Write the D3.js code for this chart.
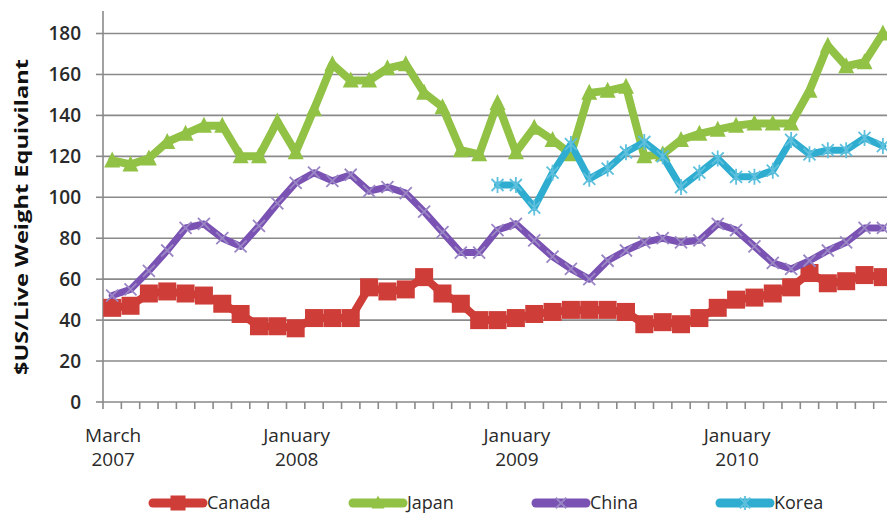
<!DOCTYPE html>
<html>
<head>
<meta charset="utf-8">
<script src="https://cdn.jsdelivr.net/npm/d3@7"></script>
<style>
  html, body { margin: 0; padding: 0; background: #fff; }
  svg { display: block; }
</style>
</head>
<body>
<svg id="chart" width="887" height="515"></svg>
<script>
// ---- data ----
const months = [
  "2007-03","2007-04","2007-05","2007-06","2007-07","2007-08","2007-09","2007-10","2007-11","2007-12",
  "2008-01","2008-02","2008-03","2008-04","2008-05","2008-06","2008-07","2008-08","2008-09","2008-10","2008-11","2008-12",
  "2009-01","2009-02","2009-03","2009-04","2009-05","2009-06","2009-07","2009-08","2009-09","2009-10","2009-11","2009-12",
  "2010-01","2010-02","2010-03","2010-04","2010-05","2010-06","2010-07","2010-08","2010-09"
];
const canada = [46,47,53,54,53,52,48,43,37,37, 36,41,41,41,56,54,55,61,53,48,40,40, 41,43,44,45,45,45,44,38,39,38,41,46, 50,51,53,56,63,58,59,62,61];
const japan  = [118,116,119,127,131,135,135,120,120,137, 122,143,165,157,157,163,165,151,144,123,121,146, 122,134,128,121,151,152,154,120,121,128,131,133, 135,136,136,136,152,174,164,166,180];
const china  = [52,55,64,74,85,87,80,76,86,97, 107,112,108,111,103,105,102,93,83,73,73,84, 87,79,71,65,60,69,74,78,80,78,79,87, 84,76,68,65,69,74,78,85,85];
const korea  = [null,null,null,null,null,null,null,null,null,null, null,null,null,null,null,null,null,null,null,null,null,106, 106,95,112,126,109,114,122,127,120,105,112,119, 110,110,113,128,121,123,123,129,125];
const seriesNames = ["Canada","Japan","China","Korea"];
const yTicks = [0,20,40,60,80,100,120,140,160,180];
const xLabels = [
  {month:"2007-03", lines:["March","2007"]},
  {month:"2008-01", lines:["January","2008"]},
  {month:"2009-01", lines:["January","2009"]},
  {month:"2010-01", lines:["January","2010"]}
];
const yTitle = "$US/Live Weight Equivilant";

// ---- styles ----
const styles = {
  Canada: {color:"#CE3D37", mcolor:"#CE3D37", width:8, marker:"square", size:18},
  Japan:  {color:"#91C145", mcolor:"#91C145", width:8, marker:"triangle", size:16},
  China:  {color:"#7A52B3", mcolor:"#9A86C4", width:7, marker:"x", size:16},
  Korea:  {color:"#2FADD0", mcolor:"#5EC0DD", width:7, marker:"star", size:16}
};
const data = {Canada:canada, Japan:japan, China:china, Korea:korea};

const svg = d3.select("#chart");
const left = 103, bw = 18.35;
const x = d3.scaleBand().domain(months).range([left, left + months.length*bw]).padding(0);
const y = d3.scaleLinear().domain([0,180]).range([402, 33.5]);
const right = 887;
const cx = m => x(m) + x.bandwidth()/2;

svg.append("defs").append("clipPath").attr("id","clip")
  .append("rect").attr("x",0).attr("y",0).attr("width",887).attr("height",420);

// gridlines
svg.append("g").selectAll("line").data(yTicks.filter(d=>d>0)).join("line")
  .attr("x1", left).attr("x2", right).attr("y1", d=>y(d)).attr("y2", d=>y(d))
  .attr("stroke","#8a8a8a").attr("stroke-width",1.6);

// y axis line
svg.append("line").attr("x1",left).attr("x2",left).attr("y1",y(191)).attr("y2",y(0))
  .attr("stroke","#8a8a8a").attr("stroke-width",1.6);
// x axis line
svg.append("line").attr("x1",left).attr("x2",right).attr("y1",y(0)).attr("y2",y(0))
  .attr("stroke","#8a8a8a").attr("stroke-width",1.6);

// y ticks and labels
const yg = svg.append("g");
yg.selectAll("line").data(yTicks).join("line")
  .attr("x1",96).attr("x2",left).attr("y1",d=>y(d)).attr("y2",d=>y(d))
  .attr("stroke","#8a8a8a").attr("stroke-width",1.6);
yg.selectAll("text").data(yTicks).join("text")
  .attr("x",81).attr("y",d=>y(d)).attr("dy","0.36em")
  .attr("text-anchor","end")
  .style("font-family","'Open Sans', sans-serif").style("font-size","19px").style("font-weight","600")
  .attr("fill","#2a2a2a")
  .text(d=>d);

// x ticks at band boundaries
const boundaries = months.map(m=>x(m)).concat([x(months[months.length-1]) + x.bandwidth()]);
svg.append("g").selectAll("line").data(boundaries.filter(b=>b<=right)).join("line")
  .attr("x1",d=>d).attr("x2",d=>d).attr("y1",y(0)).attr("y2",y(0)+7)
  .attr("stroke","#8a8a8a").attr("stroke-width",1.6);

// x labels
const xl = svg.append("g").selectAll("text").data(xLabels).join("text")
  .attr("x", d=>cx(d.month)+1).attr("y", 442)
  .attr("text-anchor","middle")
  .style("font-family","'Open Sans', sans-serif").style("font-size","19px").style("font-weight","500")
  .attr("fill","#2a2a2a");
xl.each(function(d){
  const t = d3.select(this);
  d.lines.forEach((ln,i)=>{
    t.append("tspan").attr("x", cx(d.month)+1).attr("dy", i===0?0:24).text(ln);
  });
});

// y title
svg.append("text")
  .attr("transform","translate(28,217) rotate(-90)")
  .attr("text-anchor","middle")
  .style("font-family","'Open Sans', sans-serif").style("font-size","17px").style("font-weight","700")
  .attr("textLength",316).attr("lengthAdjust","spacingAndGlyphs")
  .attr("fill","#111")
  .text(yTitle);

// marker drawing
function drawMarker(g, type, size, color){
  const h = size/2;
  if (type==="square") {
    g.append("rect").attr("x",-h).attr("y",-h).attr("width",size).attr("height",size).attr("fill",color);
  } else if (type==="triangle") {
    g.append("path").attr("d", `M0,${-h-1} L${h},${h-1} L${-h},${h-1} Z`).attr("fill",color);
  } else if (type==="x") {
    const a = h*0.75;
    g.append("path").attr("d", `M${-a},${-a} L${a},${a} M${-a},${a} L${a},${-a}`)
      .attr("stroke",color).attr("stroke-width",1.8).attr("fill","none");
  } else if (type==="star") {
    const a = h*0.75;
    g.append("path").attr("d", `M${-a},${-a} L${a},${a} M${-a},${a} L${a},${-a} M0,${-h} L0,${h}`)
      .attr("stroke",color).attr("stroke-width",1.8).attr("fill","none");
  }
}

const plot = svg.append("g").attr("clip-path","url(#clip)");
seriesNames.forEach(name=>{
  const st = styles[name];
  const vals = data[name];
  const pts = months.map((m,i)=>({m, v:vals[i]})).filter(d=>d.v!==null);
  const line = d3.line().x(d=>cx(d.m)).y(d=>y(d.v));
  const g = plot.append("g");
  g.append("path").datum(pts).attr("d",line).attr("fill","none")
    .attr("stroke",st.color).attr("stroke-width",st.width).attr("stroke-linejoin","round").attr("stroke-linecap","round");
  pts.forEach(p=>{
    const mg = g.append("g").attr("transform",`translate(${cx(p.m)},${y(p.v)})`);
    drawMarker(mg, st.marker, st.size, st.mcolor);
  });
});

// legend
const legendItems = [
  {name:"Canada", x:150},
  {name:"Japan", x:350},
  {name:"China", x:533},
  {name:"Korea", x:717}
];
const lg = svg.append("g");
legendItems.forEach(it=>{
  const st = styles[it.name];
  const g = lg.append("g").attr("transform",`translate(${it.x},503)`);
  g.append("line").attr("x1",3).attr("x2",53).attr("y1",0).attr("y2",0)
    .attr("stroke",st.color).attr("stroke-width",9).attr("stroke-linecap","round");
  const mg = g.append("g").attr("transform","translate(28,0)");
  if (st.marker==="square") drawMarker(mg,"square",15,st.mcolor);
  else if (st.marker==="triangle") drawMarker(mg,"triangle",13,st.mcolor);
  else drawMarker(mg, st.marker, 14, st.mcolor);
  g.append("text").attr("x",57).attr("y",0).attr("dy","0.36em")
    .style("font-family","'Open Sans', sans-serif").style("font-size","18px").style("font-weight","500")
    .attr("fill","#2a2a2a").text(it.name);
});
</script>
</body>
</html>
